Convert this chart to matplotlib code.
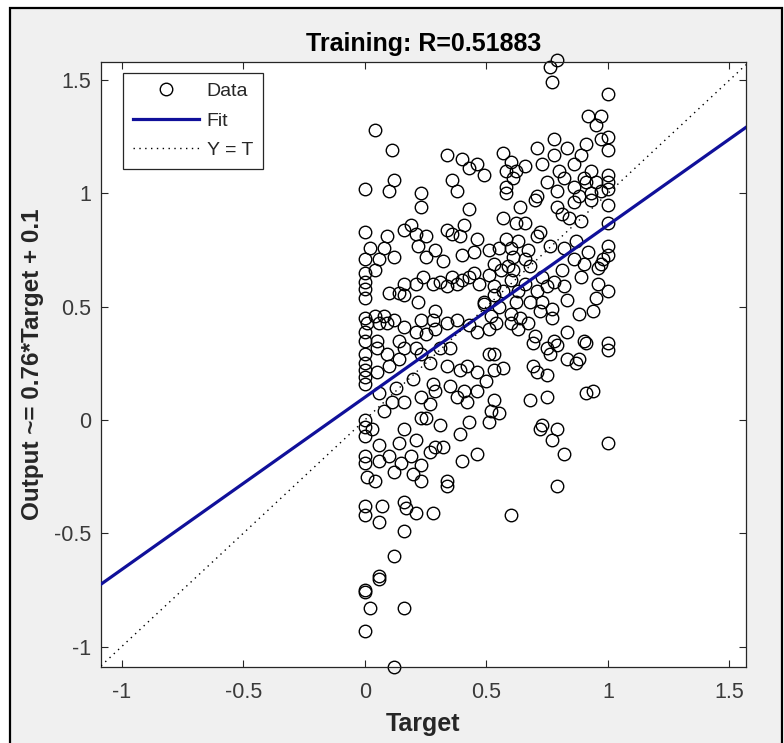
"""Regression plot (training set): network output vs. target, with the linear fit
and the Y = T reference line, styled after the MATLAB plotregression window."""
import matplotlib.pyplot as plt
import numpy as np
from matplotlib.lines import Line2D
from matplotlib.patches import Rectangle

# targets / outputs (about 320 of the visible circles)
TARGET = [
    # top band (output > 1)
    0.04, 0.11, 0.34, 0.40, 0.43, 0.46, 0.49, 0.36, 0.38, 0.12,
    0.10, 0.00, 0.23, 0.79, 0.76, 0.77, 1.00, 0.92, 0.97, 0.95,
    1.00, 0.97, 1.00, 0.91, 0.89, 0.86, 0.78, 0.83, 0.71, 0.78,
    0.73, 0.66, 0.57, 0.60, 0.58, 0.62, 0.61, 0.58, 0.58, 0.80,
    0.82, 0.75, 0.79, 0.71, 0.86, 0.90, 0.93, 0.91, 0.95, 1.00,
    1.00, 1.00, 0.97, 0.93, 0.88,
    # left, output 0.35 .. 1
    0.23, 0.43, 0.00, 0.19, 0.16, 0.21, 0.25, 0.09, 0.34, 0.36,
    0.41, 0.39, 0.46, 0.02, 0.08, 0.12, 0.22, 0.29, 0.25, 0.32,
    0.40, 0.45, 0.00, 0.06, 0.00, 0.00, 0.04, 0.00, 0.00, 0.10,
    0.14, 0.16, 0.21, 0.24, 0.28, 0.31, 0.34, 0.36, 0.38, 0.40,
    0.43, 0.45, 0.47, 0.22, 0.16, 0.00, 0.04, 0.08, 0.09, 0.06,
    0.01, 0.00, 0.12, 0.16, 0.23, 0.29, 0.28, 0.34, 0.38, 0.29,
    0.25, 0.21, 0.43, 0.49, 0.46, 0.00, 0.05, 0.14,
    # right, output 0.35 .. 1
    0.64, 0.70, 0.79, 0.86, 0.93, 1.00, 0.81, 0.89, 0.84, 0.57,
    0.62, 0.66, 1.00, 0.72, 0.71, 0.58, 0.63, 0.76, 0.82, 0.87,
    1.00, 1.00, 0.51, 0.55, 0.60, 0.67, 0.61, 0.66, 0.53, 0.59,
    0.86, 0.90, 0.92, 0.97, 0.98, 0.51, 0.56, 0.61, 0.68, 0.81,
    0.89, 0.96, 0.60, 0.66, 0.73, 0.78, 0.75, 0.82, 0.53, 0.57,
    0.53, 0.63, 0.71, 0.96, 1.00, 0.95, 0.49, 0.55, 0.62, 0.68,
    0.73, 0.83, 0.72, 0.77, 0.77, 0.88, 0.94, 0.60, 0.52, 0.64,
    0.60, 0.67, 0.54, 0.63, 0.51, 0.70, 0.83, 0.78, 0.90, 1.00,
    # left, output -0.3 .. 0.35
    0.00, 0.00, 0.00, 0.00, 0.00, 0.05, 0.05, 0.09, 0.10, 0.14,
    0.16, 0.21, 0.23, 0.27, 0.31, 0.35, 0.34, 0.39, 0.42, 0.46,
    0.20, 0.28, 0.29, 0.35, 0.38, 0.41, 0.46, 0.42, 0.11, 0.06,
    0.13, 0.16, 0.23, 0.27, 0.23, 0.25, 0.08, 0.00, 0.00, 0.00,
    0.03, 0.31, 0.43, 0.39, 0.16, 0.21, 0.14, 0.06, 0.29, 0.32,
    0.27, 0.00, 0.00, 0.06, 0.10, 0.15, 0.19, 0.23, 0.12, 0.20,
    0.01, 0.04, 0.23, 0.34, 0.34, 0.40, 0.46,
    # right, output -0.3 .. 0.35
    0.51, 0.53, 0.57, 0.53, 0.50, 0.53, 0.52, 0.55, 0.51, 0.69,
    0.75, 0.76, 0.79, 0.83, 0.87, 0.88, 0.91, 1.00, 0.69, 0.71,
    0.75, 0.68, 0.75, 0.91, 0.94, 0.72, 0.73, 0.79, 0.77, 0.82,
    1.00, 0.79,
    # bottom tail
    0.00, 0.00, 0.07, 0.06, 0.16, 0.17, 0.21, 0.28, 0.60, 0.16,
    0.12, 0.06, 0.06, 0.00, 0.00, 0.02, 0.16, 0.00, 0.12,
]
OUTPUT = [
    1.28, 1.19, 1.17, 1.15, 1.11, 1.13, 1.08, 1.06, 1.01, 1.06,
    1.01, 1.02, 1.00, 1.59, 1.56, 1.49, 1.44, 1.34, 1.34, 1.30,
    1.25, 1.24, 1.19, 1.22, 1.17, 1.13, 1.24, 1.20, 1.20, 1.17,
    1.13, 1.12, 1.18, 1.14, 1.10, 1.10, 1.07, 1.03, 1.00, 1.10,
    1.07, 1.05, 1.01, 0.99, 1.03, 1.07, 1.10, 1.05, 1.05, 1.08,
    1.05, 1.02, 1.01, 1.00, 0.99,

    0.94, 0.93, 0.83, 0.86, 0.84, 0.82, 0.81, 0.81, 0.84, 0.82,
    0.86, 0.81, 0.80, 0.76, 0.76, 0.72, 0.77, 0.75, 0.72, 0.70,
    0.73, 0.74, 0.71, 0.71, 0.65, 0.61, 0.66, 0.58, 0.54, 0.56,
    0.56, 0.60, 0.60, 0.63, 0.60, 0.61, 0.59, 0.63, 0.60, 0.62,
    0.63, 0.65, 0.60, 0.52, 0.55, 0.45, 0.46, 0.46, 0.43, 0.43,
    0.43, 0.39, 0.44, 0.41, 0.44, 0.48, 0.44, 0.43, 0.44, 0.40,
    0.38, 0.39, 0.42, 0.51, 0.39, 0.35, 0.35, 0.35,

    0.94, 0.97, 0.94, 0.96, 0.97, 0.95, 0.91, 0.88, 0.89, 0.89,
    0.87, 0.87, 0.87, 0.83, 0.81, 0.80, 0.79, 0.77, 0.76, 0.79,
    0.77, 0.73, 0.75, 0.76, 0.76, 0.75, 0.72, 0.71, 0.69, 0.68,
    0.71, 0.69, 0.74, 0.69, 0.71, 0.64, 0.66, 0.66, 0.68, 0.66,
    0.63, 0.67, 0.62, 0.60, 0.63, 0.61, 0.59, 0.59, 0.59, 0.57,
    0.55, 0.57, 0.57, 0.60, 0.57, 0.54, 0.52, 0.50, 0.52, 0.52,
    0.52, 0.53, 0.48, 0.49, 0.45, 0.47, 0.48, 0.47, 0.46, 0.45,
    0.43, 0.43, 0.43, 0.40, 0.40, 0.37, 0.39, 0.35, 0.35, 0.34,

    0.29, 0.25, 0.22, 0.19, 0.16, 0.32, 0.21, 0.29, 0.24, 0.27,
    0.32, 0.32, 0.29, 0.25, 0.32, 0.32, 0.24, 0.22, 0.24, 0.21,
    0.18, 0.16, 0.13, 0.15, 0.10, 0.13, 0.13, 0.08, 0.08, 0.12,
    0.14, 0.08, 0.10, 0.07, 0.01, 0.01, 0.04, 0.00, -0.03, -0.07,
    -0.04, -0.02, -0.01, -0.06, -0.04, -0.09, -0.10, -0.11, -0.12, -0.12,
    -0.14, -0.16, -0.19, -0.18, -0.16, -0.19, -0.16, -0.20, -0.23, -0.24,
    -0.25, -0.27, -0.27, -0.27, -0.29, -0.18, -0.15,

    0.29, 0.29, 0.23, 0.22, 0.17, 0.09, 0.04, 0.03, -0.01, 0.34,
    0.32, 0.29, 0.33, 0.27, 0.25, 0.27, 0.34, 0.31, 0.24, 0.21,
    0.20, 0.09, 0.10, 0.12, 0.13, -0.04, -0.02, -0.04, -0.09, -0.15,
    -0.10, -0.29,

    -0.38, -0.42, -0.38, -0.45, -0.36, -0.39, -0.41, -0.41, -0.42, -0.49,
    -0.60, -0.69, -0.70, -0.75, -0.76, -0.83, -0.83, -0.93, -1.09,
]

FIT_SLOPE = 0.76
FIT_INTERCEPT = 0.1
R_VALUE = "0.51883"

TICKS = [-1, -0.5, 0, 0.5, 1, 1.5]
TICK_LABELS = ["-1", "-0.5", "0", "0.5", "1", "1.5"]
X_LIMITS = (-1.085, 1.568)
Y_LIMITS = (-1.09, 1.58)

FIT_COLOR = "#10109a"
TEXT_COLOR = "#262626"
TICK_TEXT_COLOR = "#3a3a3a"
WINDOW_GREY = "#f0f0f0"

W, H = 784, 743


def main():
    plt.rcParams["font.family"] = ["Liberation Sans", "DejaVu Sans"]
    plt.rcParams["axes.unicode_minus"] = False

    fig = plt.figure(figsize=(W / 100, H / 100), dpi=100, facecolor="white")
    # grey window background with its black frame (bottom edge is cut off)
    fig.patches.append(Rectangle(
        (10 / W, -0.05), (782 - 10) / W, (H - 8) / H + 0.05,
        transform=fig.transFigure, facecolor=WINDOW_GREY, edgecolor="black",
        linewidth=1.6, zorder=-10,
    ))

    ax = fig.add_axes([101 / W, (H - 667) / H, 645 / W, 605 / H])
    ax.set_facecolor("white")

    ax.plot(TARGET, OUTPUT, linestyle="none", marker="o", markersize=9,
            markerfacecolor="none", markeredgecolor="black", markeredgewidth=1.0,
            clip_on=False, zorder=2)

    xs = np.array(X_LIMITS)
    ax.plot(xs, FIT_SLOPE * xs + FIT_INTERCEPT, color=FIT_COLOR, linewidth=2.3, zorder=3)
    ax.plot(xs, xs, color="black", linewidth=1.0, linestyle=(0, (1, 3.2)), zorder=3)

    ax.set_xlim(*X_LIMITS)
    ax.set_ylim(*Y_LIMITS)
    ax.set_xticks(TICKS)
    ax.set_xticklabels(TICK_LABELS)
    ax.set_yticks(TICKS)
    ax.set_yticklabels(TICK_LABELS)
    ax.tick_params(direction="in", length=5, width=0.8, top=True, right=True,
                   colors=TEXT_COLOR, labelcolor=TICK_TEXT_COLOR, labelsize=15.5)
    ax.tick_params(axis="x", pad=11)
    ax.tick_params(axis="y", pad=7)
    for spine in ax.spines.values():
        spine.set_color(TEXT_COLOR)
        spine.set_linewidth(0.9)

    ax.set_title(f"Training: R={R_VALUE}", fontsize=18, fontweight="bold",
                 color="black", pad=8)
    ax.set_xlabel("Target", fontsize=18, fontweight="bold", color=TEXT_COLOR, labelpad=6)
    ax.set_ylabel(f"Output ~= {FIT_SLOPE:.2f}*Target + {FIT_INTERCEPT:g}", fontsize=17.5,
                  fontweight="bold", color=TEXT_COLOR, labelpad=7)

    handles = [
        Line2D([], [], linestyle="none", marker="o", markersize=9, markerfacecolor="none",
               markeredgecolor="black", markeredgewidth=1.0),
        Line2D([], [], color=FIT_COLOR, linewidth=2.3),
        Line2D([], [], color="black", linewidth=1.0, linestyle=(0, (1, 3.2))),
    ]
    leg = ax.legend(handles, ["Data", "Fit", "Y = T"], loc="upper left",
                    bbox_to_anchor=(0.034, 0.982), borderaxespad=0, fontsize=14,
                    handlelength=3.4, handletextpad=0.4, labelspacing=0.6,
                    borderpad=0.5, fancybox=False, framealpha=1, numpoints=1)
    leg.get_frame().set_edgecolor(TEXT_COLOR)
    leg.get_frame().set_linewidth(0.9)
    for txt in leg.get_texts():
        txt.set_color(TEXT_COLOR)

    fig.savefig("out.png", dpi=100, facecolor="white")
    plt.close(fig)


if __name__ == "__main__":
    main()
